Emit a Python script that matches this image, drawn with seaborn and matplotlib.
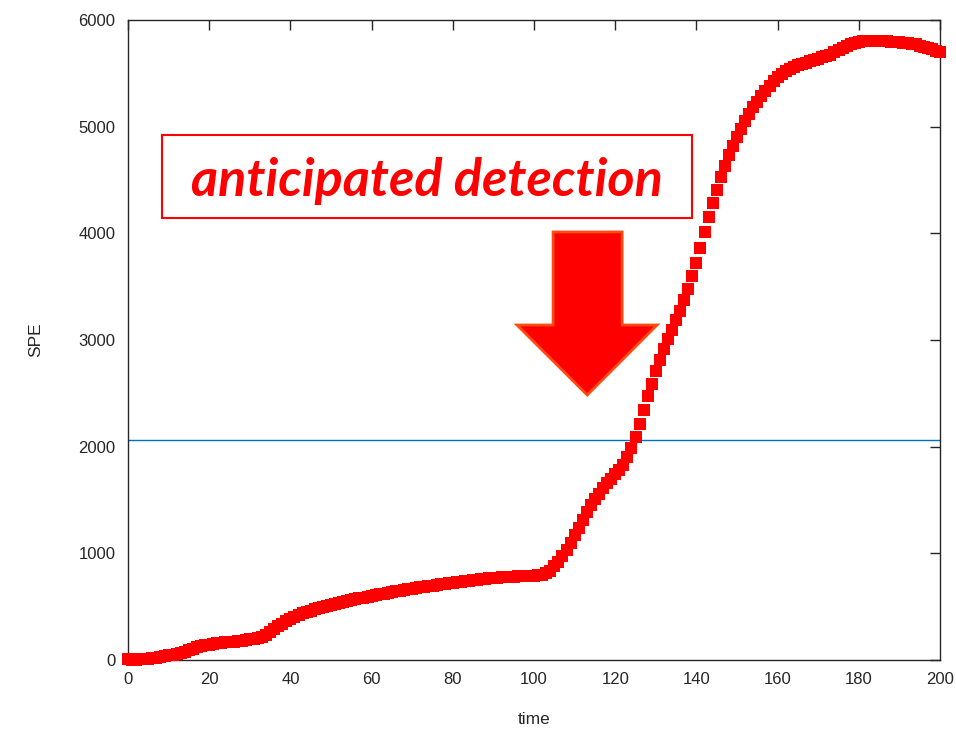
import matplotlib
matplotlib.use('Agg')
import matplotlib.pyplot as plt
import seaborn as sns
import pandas as pd
from matplotlib.patches import Rectangle, Polygon

# SPE values, one per time step (0..200)
time = list(range(201))
spe = [
    5, 3, 3, 5, 8, 10, 14, 20, 28, 35,
    42, 50, 57, 66, 77, 90, 104, 117, 127, 136,
    144, 151, 156, 161, 166, 170, 173, 177, 182, 188,
    194, 200, 208, 218, 235, 262, 290, 315, 340, 364,
    385, 403, 420, 436, 450, 463, 476, 488, 499, 509,
    518, 528, 537, 545, 553, 561, 569, 577, 585, 593,
    600, 607, 614, 621, 628, 635, 642, 649, 656, 662,
    668, 674, 680, 686, 692, 698, 703, 709, 714, 719,
    724, 729, 734, 739, 744, 749, 753, 757, 761, 765,
    769, 772, 775, 777, 779, 781, 783, 785, 786, 788,
    790, 793, 800, 812, 838, 878, 920, 970, 1030, 1100,
    1170, 1240, 1310, 1385, 1450, 1505, 1560, 1610, 1655, 1700,
    1740, 1785, 1830, 1900, 1990, 2090, 2210, 2340, 2470, 2590,
    2705, 2812, 2912, 3005, 3095, 3185, 3275, 3370, 3480, 3600,
    3720, 3860, 4010, 4150, 4280, 4410, 4525, 4630, 4730, 4820,
    4900, 4975, 5050, 5118, 5182, 5235, 5290, 5338, 5385, 5425,
    5465, 5495, 5520, 5542, 5560, 5575, 5588, 5600, 5612, 5624,
    5636, 5648, 5660, 5675, 5695, 5718, 5740, 5758, 5772, 5783,
    5792, 5798, 5802, 5804, 5805, 5805, 5803, 5800, 5797, 5794,
    5791, 5788, 5784, 5778, 5770, 5760, 5750, 5738, 5725, 5712,
    5700,
]
threshold = 2060

x_ticks = [0, 20, 40, 60, 80, 100, 120, 140, 160, 180, 200]
y_ticks = [0, 1000, 2000, 3000, 4000, 5000, 6000]

df = pd.DataFrame({'time': time, 'SPE': spe})

sns.set_style('white')
plt.rcParams['font.family'] = ['Liberation Sans', 'DejaVu Sans']

fig = plt.figure(figsize=(9.56, 7.29), dpi=100)
ax = fig.add_axes([0.1339, 0.0947, 0.8494, 0.878])

sns.scatterplot(data=df, x='time', y='SPE', marker='s', s=80, color='#ff0000',
                linewidth=0, ax=ax, clip_on=False, zorder=3)
ax.axhline(threshold, color='#0072BD', linewidth=1.0, zorder=2)

ax.set_xlim(0, 200)
ax.set_ylim(0, 6000)
ax.set_xticks(x_ticks)
ax.set_yticks(y_ticks)
ax.tick_params(direction='in', length=7, width=1, top=True, right=True,
               colors='#262626', labelsize=12, pad=9)
for s in ax.spines.values():
    s.set_color('#262626')
    s.set_linewidth(1)
ax.set_xlabel('time', fontsize=12.5, color='#262626', labelpad=18)
ax.set_ylabel('SPE', fontsize=12.5, color='#262626', labelpad=25)

# annotation box
ax.add_patch(Rectangle((8.4, 4144), 130.5, 778, fill=False, edgecolor='#ff0000',
                       linewidth=1.5, zorder=4))
ax.text(73.6, 4490, 'anticipated detection', color='#ff0000', fontsize=37.5,
        fontweight='bold', fontstyle='italic', family=['Lato', 'DejaVu Sans'],
        ha='center', va='center', zorder=5)

# big down arrow
arrow = [(104.7, 4012), (121.7, 4012), (121.7, 3140), (130.3, 3140),
         (113.1, 2484), (95.8, 3140), (104.7, 3140)]
ax.add_patch(Polygon(arrow, closed=True, facecolor='#ff0000', edgecolor='#ff4a10',
                     linewidth=2, zorder=4))

plt.savefig('out.png', dpi=100)
